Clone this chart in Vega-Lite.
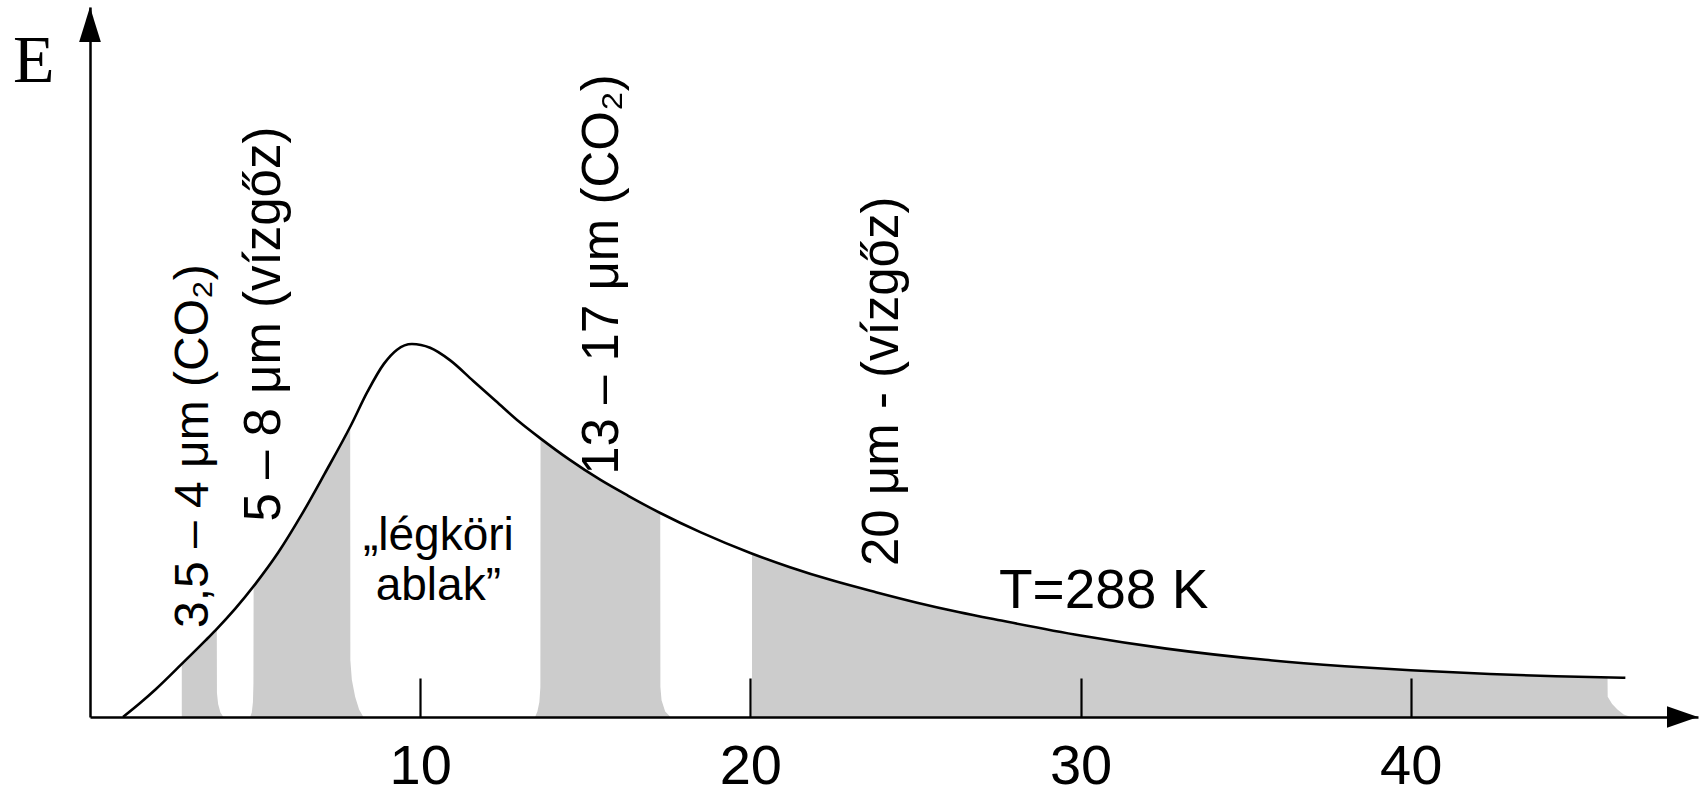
{
  "$schema": "https://vega.github.io/schema/vega-lite/v6.json",
  "width": 1608,
  "height": 710,
  "autosize": {"type": "none"},
  "padding": {"left": 90, "top": 7, "right": 9, "bottom": 78},
  "background": "white",
  "config": {"view": {"stroke": null}},
  "datasets": {
    "curve": [
      {"x": 1.0, "E": 0}, {"x": 1.5, "E": 0.036}, {"x": 2.0, "E": 0.075}, {"x": 2.78, "E": 0.142},
      {"x": 3.5, "E": 0.205}, {"x": 3.8, "E": 0.232}, {"x": 4.4, "E": 0.29}, {"x": 5.0, "E": 0.355},
      {"x": 5.7, "E": 0.44}, {"x": 6.4, "E": 0.54}, {"x": 7.1, "E": 0.65}, {"x": 7.9, "E": 0.78},
      {"x": 8.4, "E": 0.87}, {"x": 8.9, "E": 0.945}, {"x": 9.3, "E": 0.983}, {"x": 9.75, "E": 0.998},
      {"x": 10.3, "E": 0.988}, {"x": 10.9, "E": 0.955}, {"x": 11.6, "E": 0.9}, {"x": 12.3, "E": 0.845},
      {"x": 13.0, "E": 0.79}, {"x": 13.65, "E": 0.745}, {"x": 14.5, "E": 0.69}, {"x": 15.45, "E": 0.635},
      {"x": 16.3, "E": 0.592}, {"x": 17.27, "E": 0.546}, {"x": 18.5, "E": 0.494}, {"x": 20.0, "E": 0.439},
      {"x": 21.2, "E": 0.401}, {"x": 22.5, "E": 0.365}, {"x": 23.8, "E": 0.334}, {"x": 25.05, "E": 0.306},
      {"x": 26.3, "E": 0.281}, {"x": 27.6, "E": 0.258}, {"x": 30.0, "E": 0.218}, {"x": 32.6, "E": 0.183},
      {"x": 35.6, "E": 0.153}, {"x": 38.0, "E": 0.136}, {"x": 40.0, "E": 0.125}, {"x": 42.4, "E": 0.115},
      {"x": 44.4, "E": 0.109}, {"x": 46.5, "E": 0.105}
    ],
    "shade": [
      {"band": "b1", "x": 2.78, "E": 0.142}, {"band": "b1", "x": 3.0, "E": 0.161},
      {"band": "b1", "x": 3.3, "E": 0.188}, {"band": "b1", "x": 3.6, "E": 0.214},
      {"band": "b1", "x": 3.84, "E": 0.236}, {"band": "b1", "x": 3.845, "E": 0.064},
      {"band": "b1", "x": 3.88, "E": 0.035}, {"band": "b1", "x": 3.95, "E": 0.012},
      {"band": "b1", "x": 4.04, "E": 0},
      {"band": "b2", "x": 4.85, "E": 0}, {"band": "b2", "x": 4.9, "E": 0.012},
      {"band": "b2", "x": 4.935, "E": 0.04}, {"band": "b2", "x": 4.95, "E": 0.09},
      {"band": "b2", "x": 4.955, "E": 0.35}, {"band": "b2", "x": 5.3, "E": 0.395},
      {"band": "b2", "x": 5.7, "E": 0.44}, {"band": "b2", "x": 6.4, "E": 0.54},
      {"band": "b2", "x": 7.1, "E": 0.65}, {"band": "b2", "x": 7.5, "E": 0.715},
      {"band": "b2", "x": 7.88, "E": 0.775}, {"band": "b2", "x": 7.885, "E": 0.152},
      {"band": "b2", "x": 7.93, "E": 0.1}, {"band": "b2", "x": 8.03, "E": 0.054},
      {"band": "b2", "x": 8.15, "E": 0.02}, {"band": "b2", "x": 8.28, "E": 0},
      {"band": "b3", "x": 13.48, "E": 0}, {"band": "b3", "x": 13.55, "E": 0.015},
      {"band": "b3", "x": 13.61, "E": 0.04}, {"band": "b3", "x": 13.64, "E": 0.08},
      {"band": "b3", "x": 13.645, "E": 0.745}, {"band": "b3", "x": 14.0, "E": 0.722},
      {"band": "b3", "x": 14.5, "E": 0.69}, {"band": "b3", "x": 15.45, "E": 0.635},
      {"band": "b3", "x": 16.3, "E": 0.592}, {"band": "b3", "x": 17.27, "E": 0.546},
      {"band": "b3", "x": 17.275, "E": 0.08}, {"band": "b3", "x": 17.31, "E": 0.045},
      {"band": "b3", "x": 17.42, "E": 0.015}, {"band": "b3", "x": 17.58, "E": 0},
      {"band": "b4", "x": 20.05, "E": 0.437}, {"band": "b4", "x": 21.2, "E": 0.401},
      {"band": "b4", "x": 22.5, "E": 0.365}, {"band": "b4", "x": 23.8, "E": 0.334},
      {"band": "b4", "x": 25.05, "E": 0.306}, {"band": "b4", "x": 26.3, "E": 0.281},
      {"band": "b4", "x": 27.6, "E": 0.258}, {"band": "b4", "x": 30.0, "E": 0.218},
      {"band": "b4", "x": 32.6, "E": 0.183}, {"band": "b4", "x": 35.6, "E": 0.153},
      {"band": "b4", "x": 38.0, "E": 0.136}, {"band": "b4", "x": 40.0, "E": 0.125},
      {"band": "b4", "x": 42.4, "E": 0.115}, {"band": "b4", "x": 44.4, "E": 0.109},
      {"band": "b4", "x": 45.96, "E": 0.106}, {"band": "b4", "x": 45.965, "E": 0.054},
      {"band": "b4", "x": 46.1, "E": 0.035}, {"band": "b4", "x": 46.26, "E": 0.02},
      {"band": "b4", "x": 46.45, "E": 0.007}, {"band": "b4", "x": 46.67, "E": 0}
    ],
    "xarrow": [{"x": 48.7, "E": 0}],
    "yarrow": [{"x": 0, "E": 1.9}],
    "rotLabel1": [
      {"text": "3,5 – 4 μm (CO₂)", "x": 3.58, "E": 0.238}
    ],
    "rotLabels": [
      {"text": "5 – 8 μm (vízgőz)", "x": 5.76, "E": 0.523},
      {"text": "13 – 17 μm (CO₂)", "x": 16.0, "E": 0.648},
      {"text": "20 μm - (vízgőz)", "x": 24.48, "E": 0.404}
    ],
    "window": [
      {"text": "„légköri", "x": 10.55, "E": 0.447},
      {"text": "ablak”", "x": 10.55, "E": 0.313}
    ],
    "temp": [{"text": "T=288 K", "x": 30.7, "E": 0.292}],
    "elabel": [{"text": "E", "x": -2.33, "E": 1.699}]
  },
  "encoding": {
    "x": {
      "field": "x", "type": "quantitative",
      "scale": {"domain": [0, 48.7], "nice": false, "zero": false},
      "axis": {
        "values": [10, 20, 30, 40], "format": "d", "title": null, "grid": false,
        "ticks": true, "tickSize": -39, "tickWidth": 2.2, "tickColor": "black",
        "domainColor": "black", "domainWidth": 2.5,
        "labelFont": "Liberation Sans, Arial, Helvetica, sans-serif", "labelFontSize": 56, "labelColor": "black",
        "labelPadding": 105, "labelBaseline": "alphabetic", "labelFlush": false, "zindex": 1
      }
    },
    "y": {
      "field": "E", "type": "quantitative",
      "scale": {"domain": [0, 1.9], "nice": false, "zero": true},
      "axis": {
        "title": null, "labels": false, "ticks": false, "grid": false,
        "domainColor": "black", "domainWidth": 2.5, "zindex": 1
      }
    }
  },
  "layer": [
    {
      "data": {"name": "shade"},
      "transform": [{"filter": "datum.band == 'b1'"}],
      "mark": {"type": "area", "fill": "#cccccc", "color": "#cccccc", "interpolate": "linear"},
      "encoding": {}
    },
    {
      "data": {"name": "shade"},
      "transform": [{"filter": "datum.band == 'b2'"}],
      "mark": {"type": "area", "fill": "#cccccc", "color": "#cccccc", "interpolate": "linear"},
      "encoding": {}
    },
    {
      "data": {"name": "shade"},
      "transform": [{"filter": "datum.band == 'b3'"}],
      "mark": {"type": "area", "fill": "#cccccc", "color": "#cccccc", "interpolate": "linear"},
      "encoding": {}
    },
    {
      "data": {"name": "shade"},
      "transform": [{"filter": "datum.band == 'b4'"}],
      "mark": {"type": "area", "fill": "#cccccc", "color": "#cccccc", "interpolate": "linear"},
      "encoding": {}
    },
    {
      "data": {"name": "curve"},
      "mark": {"type": "line", "color": "black", "strokeWidth": 2.6, "interpolate": "monotone"},
      "encoding": {}
    },
    {
      "data": {"name": "xarrow"},
      "mark": {"type": "point", "shape": "M0,0L-2,-0.7L-2,0.7Z", "size": 961, "filled": true, "color": "black", "opacity": 1},
      "encoding": {}
    },
    {
      "data": {"name": "yarrow"},
      "mark": {"type": "point", "shape": "M0,0L0.62,2L-0.62,2Z", "size": 1225, "filled": true, "color": "black", "opacity": 1},
      "encoding": {}
    },
    {
      "data": {"name": "rotLabel1"},
      "mark": {"type": "text", "angle": 270, "align": "left", "baseline": "alphabetic", "font": "Liberation Sans, Arial, Helvetica, sans-serif", "fontSize": 48, "color": "black"},
      "encoding": {"text": {"field": "text"}}
    },
    {
      "data": {"name": "rotLabels"},
      "mark": {"type": "text", "angle": 270, "align": "left", "baseline": "alphabetic", "font": "Liberation Sans, Arial, Helvetica, sans-serif", "fontSize": 51, "color": "black"},
      "encoding": {"text": {"field": "text"}}
    },
    {
      "data": {"name": "window"},
      "mark": {"type": "text", "align": "center", "baseline": "alphabetic", "font": "Liberation Sans, Arial, Helvetica, sans-serif", "fontSize": 46, "color": "black"},
      "encoding": {"text": {"field": "text"}}
    },
    {
      "data": {"name": "temp"},
      "mark": {"type": "text", "align": "center", "baseline": "alphabetic", "font": "Liberation Sans, Arial, Helvetica, sans-serif", "fontSize": 55, "color": "black"},
      "encoding": {"text": {"field": "text"}}
    },
    {
      "data": {"name": "elabel"},
      "mark": {"type": "text", "align": "left", "baseline": "alphabetic", "font": "Liberation Serif, Times New Roman, serif", "fontSize": 68, "color": "black"},
      "encoding": {"text": {"field": "text"}}
    }
  ]
}
